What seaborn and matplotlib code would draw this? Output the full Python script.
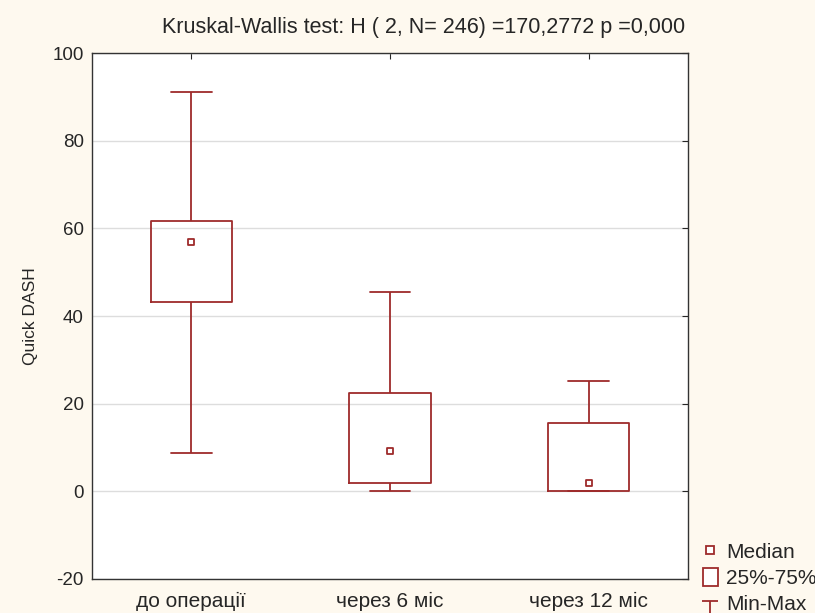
import seaborn as sns
import matplotlib.pyplot as plt
import numpy as np
import pandas as pd
from matplotlib.lines import Line2D
from matplotlib.markers import TICKDOWN
from matplotlib.patches import Patch

# Summary stats
groups = ["до операції", "через 6 міс", "через 12 міс"]
mins = [8.7, 0.0, 0.0]
q1 = [43.3, 1.8, 0.0]
medians = [56.8, 9.1, 1.8]
q3 = [61.6, 22.4, 15.5]
maxs = [91.0, 45.4, 25.1]

yticks = [-20, 0, 20, 40, 60, 80, 100]
title = "Kruskal-Wallis test: H ( 2, N= 246) =170,2772 p =0,000"

red = "#9E2B2B"
bg = "#FEF9EF"

# five-number rows -> boxplot with whis=inf reproduces the quartiles exactly
rows = []
for g, a, b, c, d, e in zip(groups, mins, q1, medians, q3, maxs):
    for v in (a, b, c, d, e):
        rows.append({"group": g, "value": v})
df = pd.DataFrame(rows)

sns.set_style("white")
plt.rcParams["font.family"] = ["Liberation Sans", "DejaVu Sans"]
plt.rcParams["axes.unicode_minus"] = False

fig = plt.figure(figsize=(8.15, 6.13), dpi=100, facecolor=bg)
ax = fig.add_axes([0.1129, 0.0555, 0.7313, 0.858])
ax.set_facecolor("white")

sns.boxplot(data=df, x="group", y="value", order=groups, whis=np.inf,
            width=0.41, fill=False, color=red, linewidth=1.3,
            medianprops={"visible": False}, ax=ax)
sns.stripplot(x=groups, y=medians, order=groups, jitter=False, marker="s",
              size=5, color="white", edgecolor=red, linewidth=1.3, ax=ax, zorder=5)

ax.set_ylim(-20, 100)
ax.set_xlim(-0.5, 2.5)
ax.set_yticks(yticks)
ax.yaxis.grid(True, color="#DDDDDD", linewidth=1)
ax.xaxis.grid(False)
ax.set_axisbelow(True)
ax.set_xlabel("")
ax.set_ylabel("Quick DASH", fontsize=12.5, labelpad=10)
ax.tick_params(axis="x", direction="in", top=True, length=4, labelsize=15, pad=9)
ax.tick_params(axis="y", direction="in", right=True, length=4, labelsize=13.5, pad=6)
for s in ax.spines.values():
    s.set_color("#333333")
    s.set_linewidth(1)

fig.text(424 / 815, 1 - 28 / 613, title, ha="center", va="center", fontsize=15.5)

# legend: median square, box, and a thin T for the whisker
cap = Line2D([], [], marker="_", ls="", markersize=11, mew=1.3, color=red)
stem = Line2D([], [], marker=TICKDOWN, ls="", markersize=14, mew=1.3, color=red)
handles = [
    Line2D([], [], marker="s", ls="", markersize=6, mfc="white", mec=red, mew=1.3),
    Patch(facecolor="white", edgecolor=red, linewidth=1.3),
    (cap, stem),
]
fig.legend(handles, ["Median", "25%-75%", "Min-Max"], loc="upper left",
           bbox_to_anchor=(0.8626, 0.116), frameon=False, fontsize=15,
           handlelength=0.7, handleheight=1.0, handletextpad=0.4, labelspacing=0.25,
           borderaxespad=0, borderpad=0)

fig.savefig("out.png", dpi=100, facecolor=bg)
